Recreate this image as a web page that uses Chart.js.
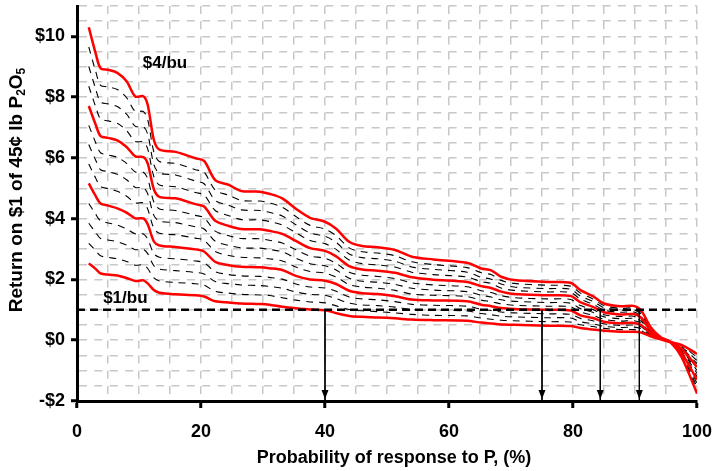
<!DOCTYPE html>
<html>
<head>
<meta charset="utf-8">
<script src="https://cdn.jsdelivr.net/npm/chart.js@4.4.0/dist/chart.umd.min.js"></script>
<style>
  html, body { margin: 0; padding: 0; background: #fff; }
</style>
</head>
<body>
<canvas id="myChart" width="713" height="471"></canvas>
<script>
// probability of response to P (%)
const probX = [1.9, 3.0, 3.8, 5.0, 6.5, 8.0, 9.4, 10.7, 11.4, 12.4, 13.3, 15.9, 19.1, 20.5, 22.3, 24.5,
    26.5, 29.5, 31.0, 33.1, 35.3, 37.6, 40.0, 41.8, 43.9, 46.0, 48.5, 51.3, 54.0, 57.5, 62.9, 65.2,
    66.8, 68.4, 70.5, 75.8, 79.6, 81.2, 83.2, 85.0, 87.6, 89.8, 91.0, 92.5, 94.1, 95.7, 97.5, 100];

// return on $1 of P, one line per corn price ($/bu)
const ret100 = [2.53, 2.35, 2.20, 2.16, 2.13, 2.05, 1.95, 1.97, 1.87, 1.65, 1.56, 1.51, 1.48, 1.44, 1.28, 1.24,
    1.21, 1.19, 1.17, 1.10, 1.05, 1.01, 0.99, 0.89, 0.80, 0.77, 0.75, 0.72, 0.68, 0.66, 0.64, 0.58,
    0.55, 0.52, 0.51, 0.48, 0.47, 0.40, 0.35, 0.31, 0.28, 0.28, 0.25, 0.13, 0.03, -0.06, -0.15, -0.45];
const ret125 = [3.19, 2.95, 2.78, 2.73, 2.68, 2.59, 2.47, 2.48, 2.36, 2.05, 1.95, 1.90, 1.86, 1.81, 1.61, 1.55,
    1.51, 1.49, 1.47, 1.40, 1.32, 1.26, 1.23, 1.13, 1.01, 0.97, 0.94, 0.90, 0.85, 0.82, 0.80, 0.73,
    0.69, 0.66, 0.64, 0.61, 0.60, 0.51, 0.45, 0.39, 0.35, 0.35, 0.31, 0.15, 0.04, -0.06, -0.18, -0.56];
const ret150 = [3.85, 3.55, 3.35, 3.30, 3.24, 3.13, 2.98, 2.99, 2.85, 2.45, 2.34, 2.29, 2.23, 2.18, 1.93, 1.86,
    1.82, 1.80, 1.77, 1.71, 1.59, 1.51, 1.48, 1.37, 1.22, 1.16, 1.14, 1.09, 1.01, 0.99, 0.96, 0.88,
    0.84, 0.79, 0.77, 0.74, 0.73, 0.61, 0.54, 0.46, 0.42, 0.43, 0.38, 0.18, 0.04, -0.06, -0.22, -0.67];
const ret175 = [4.50, 4.15, 3.93, 3.86, 3.79, 3.66, 3.50, 3.50, 3.33, 2.85, 2.73, 2.68, 2.61, 2.55, 2.26, 2.16,
    2.12, 2.10, 2.07, 2.01, 1.85, 1.75, 1.72, 1.61, 1.42, 1.36, 1.33, 1.27, 1.18, 1.15, 1.12, 1.02,
    0.98, 0.93, 0.90, 0.87, 0.85, 0.72, 0.64, 0.54, 0.49, 0.50, 0.44, 0.20, 0.05, -0.06, -0.25, -0.77];
const ret200 = [5.16, 4.75, 4.50, 4.43, 4.34, 4.20, 4.01, 4.01, 3.82, 3.25, 3.12, 3.07, 2.99, 2.92, 2.58, 2.47,
    2.42, 2.40, 2.37, 2.31, 2.12, 2.00, 1.96, 1.85, 1.63, 1.55, 1.52, 1.45, 1.34, 1.31, 1.28, 1.17,
    1.12, 1.06, 1.03, 1.00, 0.98, 0.82, 0.73, 0.61, 0.56, 0.57, 0.50, 0.22, 0.05, -0.06, -0.28, -0.88];
const ret225 = [5.80, 5.34, 5.06, 4.99, 4.90, 4.74, 4.52, 4.52, 4.32, 3.68, 3.52, 3.47, 3.36, 3.29, 2.92, 2.79,
    2.73, 2.71, 2.68, 2.61, 2.41, 2.26, 2.21, 2.08, 1.83, 1.75, 1.71, 1.64, 1.52, 1.48, 1.44, 1.32,
    1.27, 1.20, 1.15, 1.12, 1.10, 0.93, 0.82, 0.69, 0.63, 0.64, 0.56, 0.25, 0.06, -0.06, -0.32, -0.99];
const ret250 = [6.44, 5.93, 5.61, 5.55, 5.46, 5.28, 5.03, 5.02, 4.82, 4.11, 3.92, 3.87, 3.73, 3.66, 3.26, 3.12,
    3.04, 3.03, 2.99, 2.91, 2.70, 2.52, 2.45, 2.31, 2.04, 1.94, 1.91, 1.84, 1.71, 1.65, 1.60, 1.48,
    1.42, 1.33, 1.28, 1.24, 1.22, 1.04, 0.92, 0.77, 0.71, 0.72, 0.62, 0.28, 0.07, -0.06, -0.35, -1.09];
const ret275 = [7.07, 6.51, 6.17, 6.10, 6.02, 5.82, 5.54, 5.53, 5.32, 4.54, 4.32, 4.27, 4.11, 4.03, 3.59, 3.44,
    3.35, 3.34, 3.29, 3.20, 2.98, 2.77, 2.70, 2.53, 2.24, 2.14, 2.10, 2.03, 1.89, 1.82, 1.76, 1.63,
    1.57, 1.47, 1.40, 1.36, 1.34, 1.14, 1.01, 0.84, 0.78, 0.79, 0.68, 0.30, 0.07, -0.06, -0.39, -1.20];
const ret300 = [7.71, 7.10, 6.72, 6.66, 6.58, 6.36, 6.05, 6.03, 5.82, 4.97, 4.72, 4.67, 4.48, 4.40, 3.93, 3.76,
    3.66, 3.65, 3.60, 3.50, 3.27, 3.03, 2.94, 2.76, 2.44, 2.33, 2.29, 2.22, 2.07, 1.99, 1.92, 1.78,
    1.72, 1.60, 1.52, 1.48, 1.46, 1.25, 1.10, 0.92, 0.85, 0.86, 0.74, 0.33, 0.08, -0.06, -0.42, -1.30];
const ret325 = [8.36, 7.69, 7.28, 7.22, 7.14, 6.90, 6.54, 6.53, 6.30, 5.38, 5.11, 5.05, 4.86, 4.78, 4.27, 4.10,
    3.97, 3.96, 3.91, 3.79, 3.54, 3.28, 3.18, 2.99, 2.64, 2.52, 2.48, 2.41, 2.24, 2.16, 2.08, 1.93,
    1.87, 1.72, 1.64, 1.59, 1.57, 1.35, 1.19, 0.99, 0.92, 0.93, 0.80, 0.36, 0.09, -0.06, -0.45, -1.41];
const ret350 = [9.01, 8.28, 7.84, 7.78, 7.69, 7.44, 7.04, 7.03, 6.79, 5.78, 5.50, 5.44, 5.24, 5.15, 4.60, 4.44,
    4.29, 4.27, 4.21, 4.09, 3.80, 3.53, 3.42, 3.22, 2.84, 2.72, 2.68, 2.60, 2.41, 2.33, 2.24, 2.07,
    2.01, 1.85, 1.75, 1.70, 1.68, 1.45, 1.28, 1.07, 0.99, 1.00, 0.86, 0.39, 0.10, -0.06, -0.49, -1.53];
const ret375 = [9.65, 8.86, 8.39, 8.34, 8.25, 7.98, 7.53, 7.53, 7.27, 6.19, 5.88, 5.82, 5.61, 5.53, 4.94, 4.77,
    4.60, 4.58, 4.52, 4.38, 4.07, 3.78, 3.66, 3.44, 3.04, 2.91, 2.87, 2.78, 2.58, 2.49, 2.39, 2.22,
    2.16, 1.97, 1.87, 1.81, 1.78, 1.55, 1.36, 1.14, 1.05, 1.06, 0.92, 0.41, 0.10, -0.06, -0.52, -1.64];
const ret400 = [10.30, 9.45, 8.95, 8.90, 8.80, 8.52, 8.02, 8.03, 7.75, 6.59, 6.27, 6.20, 5.99, 5.90, 5.27, 5.11,
    4.91, 4.89, 4.82, 4.67, 4.33, 4.03, 3.90, 3.67, 3.24, 3.10, 3.06, 2.97, 2.75, 2.66, 2.55, 2.36,
    2.30, 2.09, 1.98, 1.92, 1.89, 1.65, 1.45, 1.21, 1.12, 1.13, 0.98, 0.44, 0.11, -0.06, -0.55, -1.75];

const redLines = [ret100, ret200, ret300, ret400];
const dashLines = [ret125, ret150, ret175, ret225, ret250, ret275, ret325, ret350, ret375];

// break-even line and arrows
const breakEven = 1;
const arrowX = [40, 75, 84.4, 90.7];
const arrowBottom = -2;

// price annotations
const priceLabels = ['$4/bu', '$1/bu'];
const labelX = [14.2, 7.8];
const labelY = [9.1, 1.38];

const FONT = '"Liberation Sans", Arial, Helvetica, sans-serif';
Chart.defaults.font.family = FONT;
Chart.defaults.font.weight = 'bold';
Chart.defaults.font.size = 18;
Chart.defaults.color = '#000';

const toPts = arr => probX.map((x, i) => ({ x: x, y: arr[i] }));

const datasets = [];
redLines.forEach(arr => {
    datasets.push({
        data: toPts(arr),
        borderColor: '#ff0000',
        borderWidth: 2.5,
        pointRadius: 0,
        tension: 0.3,
        order: 1
    });
});
dashLines.forEach(arr => {
    datasets.push({
        data: toPts(arr),
        borderColor: '#000',
        borderWidth: 1.1,
        borderDash: [7, 6],
        pointRadius: 0,
        tension: 0.3,
        order: 3
    });
});
datasets.push({
    data: [{ x: 0, y: breakEven }, { x: 100, y: breakEven }],
    borderColor: '#000',
    borderWidth: 2.5,
    borderDash: [8, 5],
    pointRadius: 0,
    order: 0
});
arrowX.forEach(a => {
    datasets.push({
        data: [{ x: a, y: breakEven }, { x: a, y: arrowBottom }],
        borderColor: '#000',
        borderWidth: 1,
        pointRadius: 0,
        order: 0
    });
});

const decor = {
    id: 'decor',
    afterDatasetsDraw(chart) {
        const { ctx, scales: { x, y } } = chart;
        ctx.save();
        ctx.fillStyle = '#000';
        arrowX.forEach(a => {
            const px = x.getPixelForValue(a);
            const py = y.getPixelForValue(arrowBottom) - 2;
            ctx.beginPath();
            ctx.moveTo(px, py);
            ctx.lineTo(px - 3.5, py - 9);
            ctx.lineTo(px + 3.5, py - 9);
            ctx.closePath();
            ctx.fill();
        });
        ctx.font = 'bold 17px ' + FONT;
        ctx.textAlign = 'center';
        ctx.textBaseline = 'middle';
        priceLabels.forEach((t, i) => {
            ctx.fillText(t, x.getPixelForValue(labelX[i]), y.getPixelForValue(labelY[i]));
        });
        ctx.restore();
    },
    afterDraw(chart) {
        const ctx = chart.ctx;
        ctx.save();
        ctx.fillStyle = '#000';
        ctx.textBaseline = 'middle';
        ctx.textAlign = 'center';
        ctx.font = 'bold 18px ' + FONT;
        ctx.fillText('Probability of response to P, (%)', 394, 458);

        // y title with subscripts
        const parts = [['Return on $1 of 45¢ lb P', false], ['2', true], ['O', false], ['5', true]];
        ctx.translate(17, 190);
        ctx.rotate(-Math.PI / 2);
        ctx.textAlign = 'left';
        let total = 0;
        const widths = parts.map(p => {
            ctx.font = (p[1] ? 'bold 12px ' : 'bold 19px ') + FONT;
            const w = ctx.measureText(p[0]).width;
            total += w;
            return w;
        });
        let cx = -total / 2;
        parts.forEach((p, i) => {
            ctx.font = (p[1] ? 'bold 12px ' : 'bold 19px ') + FONT;
            ctx.fillText(p[0], cx, p[1] ? 5 : 0);
            cx += widths[i];
        });
        ctx.restore();
    }
};

const majorTick = (c, step, max) => (c.tick && c.tick.value % step === 0 && c.tick.value <= max) ? '#000' : 'rgba(0,0,0,0)';

const config = {
    type: 'line',
    data: { datasets: datasets },
    options: {
        responsive: false,
        animation: false,
        devicePixelRatio: 1,
        layout: { padding: 0 },
        plugins: { legend: { display: false }, tooltip: { enabled: false } },
        scales: {
            x: {
                type: 'linear',
                min: 0,
                max: 100,
                afterFit: s => {
                    s.height = 70;
                    s.paddingLeft = 0;
                    s.paddingRight = 16;
                },
                ticks: {
                    stepSize: 5,
                    autoSkip: false,
                    maxRotation: 0,
                    padding: 13,
                    callback: v => (v % 20 === 0 ? String(v) : '')
                },
                grid: {
                    color: '#c8c8c8',
                    lineWidth: 1.5,
                    tickLength: 7,
                    tickWidth: 3,
                    tickColor: c => majorTick(c, 20, 100)
                },
                border: { display: true, color: '#000', width: 3, dash: [8, 7.2] }
            },
            y: {
                min: -2,
                max: 11,
                afterFit: s => {
                    s.width = 77;
                    s.paddingTop = 6;
                    s.paddingBottom = 0;
                },
                ticks: {
                    stepSize: 0.5,
                    autoSkip: false,
                    padding: 6,
                    callback: v => {
                        if (v % 2 !== 0 || v > 10) return '';
                        return v < 0 ? '-$' + (-v) : '$' + v;
                    }
                },
                grid: {
                    color: '#c8c8c8',
                    lineWidth: 1.5,
                    tickLength: 6,
                    tickWidth: 3,
                    tickColor: c => majorTick(c, 2, 10)
                },
                border: { display: true, color: '#000', width: 3, dash: [8, 7.4] }
            }
        }
    },
    plugins: [decor]
};

const chart = new Chart(document.getElementById('myChart'), config);
</script>
</body>
</html>
